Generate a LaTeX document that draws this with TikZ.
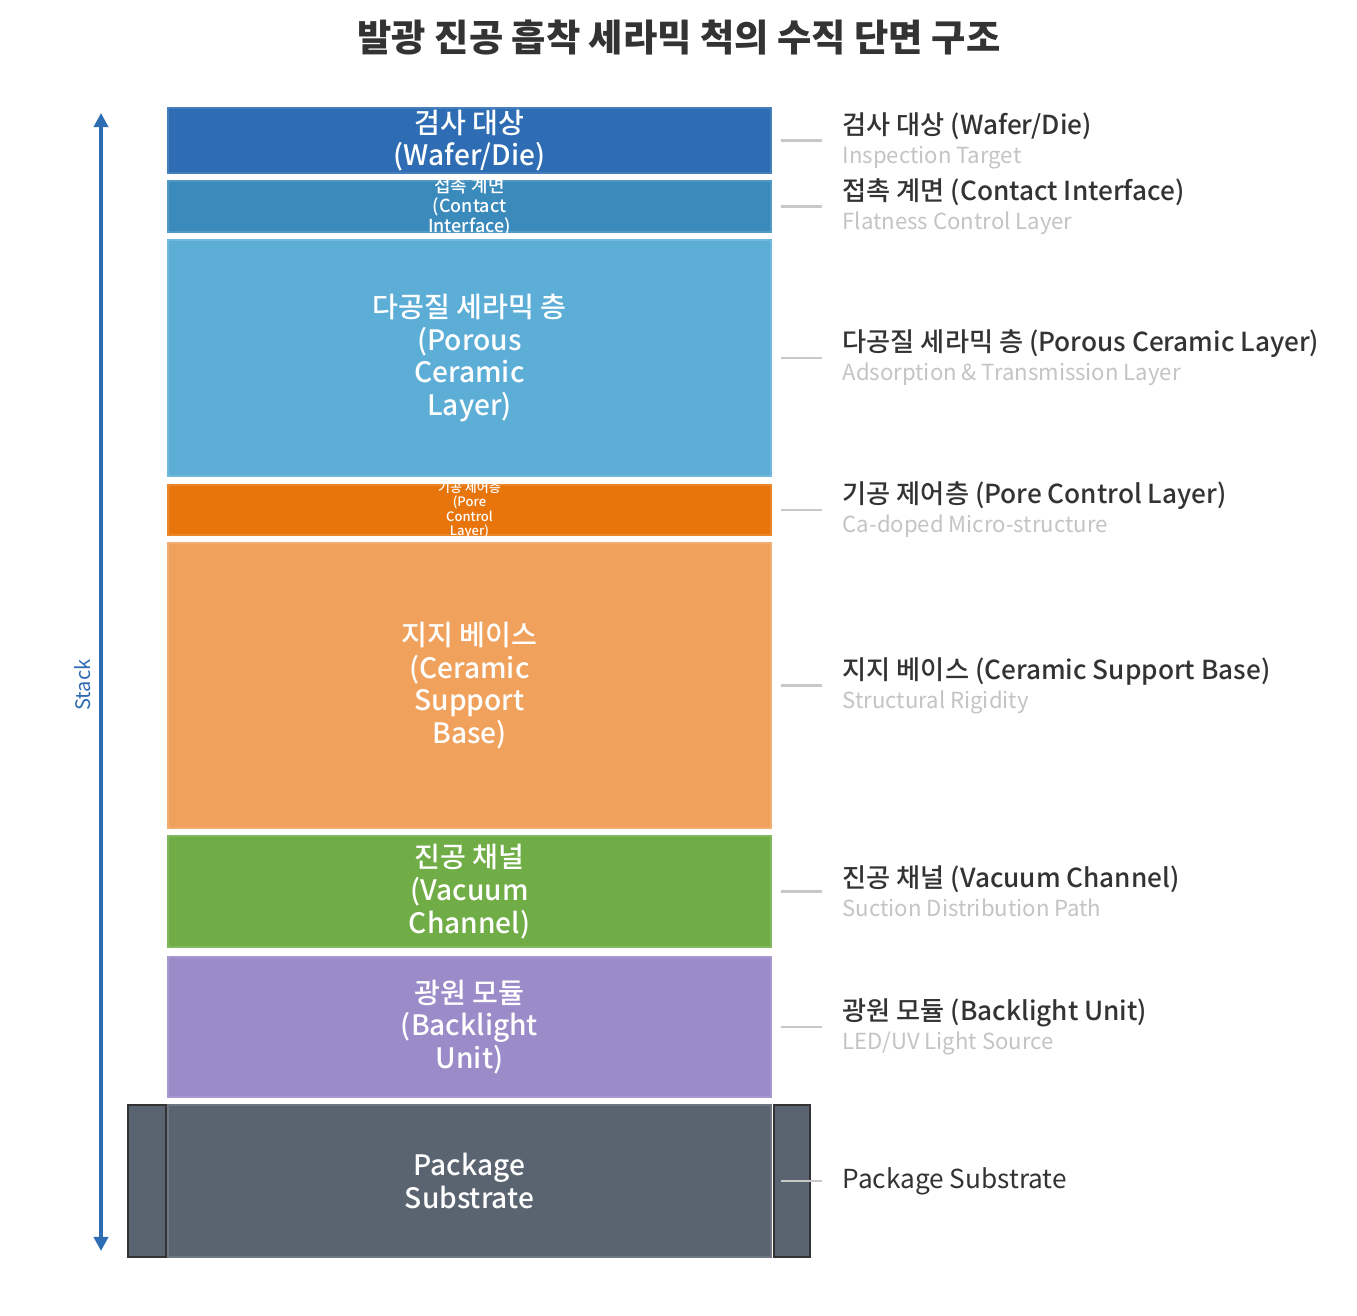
\documentclass[tikz,border=0pt]{standalone}
\usepackage{fontspec}
\setmainfont{Noto Sans CJK KR}
\newfontfamily\krmed{Noto Sans CJK KR Medium}
\usetikzlibrary{arrows.meta}

\definecolor{cWafer}{HTML}{2E6DB4}
\definecolor{cContact}{HTML}{3A8BBC}
\definecolor{cPorous}{HTML}{5DAED7}
\definecolor{cPore}{HTML}{E8750C}
\definecolor{cSupport}{HTML}{F0A25D}
\definecolor{cVacuum}{HTML}{70AD47}
\definecolor{cBacklight}{HTML}{9B8BC9}
\definecolor{cPackage}{HTML}{5A6370}
\definecolor{cText}{HTML}{333333}
\definecolor{cSub}{HTML}{C4C4C4}
\definecolor{cLeader}{HTML}{C8C8C8}

\tikzset{
  layer/.style={rectangle, inner sep=0pt, minimum width=6.03cm, fill=#1, draw=#1!88!white, line width=0.4pt},
  side/.style={rectangle, inner sep=0pt, fill=cPackage, draw=cText, line width=0.8pt},
  boxtext/.style={text=white, align=center, inner sep=0pt, font=\krmed\fontsize{8}{9.3}\selectfont},
  sidelabel/.style={anchor=west, align=left, inner sep=0pt, text=cText, font=\krmed\fontsize{7.45}{8.8}\selectfont},
  leader/.style={draw=cLeader, line width=0.6pt, shorten <=0.09cm, shorten >=0.2cm},
}
\newcommand{\subline}[1]{\\[-0.6pt]{\normalfont\fontsize{6.3}{7}\selectfont\color{cSub}#1}}

\begin{document}
\begin{tikzpicture}[x=0.01cm, y=-0.01cm]
  \useasboundingbox[fill=white] (0,0) rectangle (1357,1316);

  % title
  \node[text=cText, font=\fontsize{10.6}{12}\selectfont\bfseries] (title) at (679,37)
    {발광 진공 흡착 세라믹 척의 수직 단면 구조};

  % layers, top to bottom
  \node[layer=cWafer, minimum height=0.65cm] (wafer) at (469.5,140.5) {};
  \node[layer=cContact, minimum height=0.51cm] (contact) at (469.5,206.5) {};
  \node[layer=cPorous, minimum height=2.36cm] (porous) at (469.5,358) {};
  \node[layer=cPore, minimum height=0.50cm] (pore) at (469.5,510) {};
  \node[layer=cSupport, minimum height=2.85cm] (support) at (469.5,685.5) {};
  \node[layer=cVacuum, minimum height=1.11cm] (vacuum) at (469.5,891.5) {};
  \node[layer=cBacklight, minimum height=1.40cm] (backlight) at (469.5,1027) {};
  \node[side, minimum width=0.38cm, minimum height=1.52cm] (pkg-l) at (147,1181) {};
  \node[side, minimum width=0.36cm, minimum height=1.52cm] (pkg-r) at (792,1181) {};
  \node[layer=cPackage, minimum height=1.52cm] (package) at (469.5,1181) {};

  % texts inside the layers
  \node[boxtext] (wafer-t) at (wafer.center) {검사 대상\\(Wafer/Die)};
  \begin{scope}
    \clip (contact.south west) rectangle (contact.north east);
    \node[boxtext, font=\krmed\fontsize{5.1}{5.7}\selectfont] (contact-t) at (contact.center)
      {접촉 계면\\(Contact\\Interface)};
  \end{scope}
  \node[boxtext] (porous-t) at (porous.center) {다공질 세라믹 층\\(Porous\\Ceramic\\Layer)};
  \begin{scope}
    \clip (pore.south west) rectangle (pore.north east);
    \node[boxtext, font=\krmed\fontsize{3.7}{4.1}\selectfont] (pore-t) at (pore.center)
      {기공 제어층\\(Pore\\Control\\Layer)};
  \end{scope}
  \node[boxtext] (support-t) at (support.center) {지지 베이스\\(Ceramic\\Support\\Base)};
  \node[boxtext] (vacuum-t) at (vacuum.center) {진공 채널\\(Vacuum\\Channel)};
  \node[boxtext] (backlight-t) at (backlight.center) {광원 모듈\\(Backlight\\Unit)};
  \node[boxtext] (package-t) at (package.center) {Package\\Substrate};

  % labels on the right
  \node[sidelabel] (wafer-r) at (842,140.5) {검사 대상 (Wafer/Die)\subline{Inspection Target}};
  \node[sidelabel] (contact-r) at (842,206.5) {접촉 계면 (Contact Interface)\subline{Flatness Control Layer}};
  \node[sidelabel] (porous-r) at (842,358) {다공질 세라믹 층 (Porous Ceramic Layer)\subline{Adsorption \& Transmission Layer}};
  \node[sidelabel] (pore-r) at (842,510) {기공 제어층 (Pore Control Layer)\subline{Ca-doped Micro-structure}};
  \node[sidelabel] (support-r) at (842,685.5) {지지 베이스 (Ceramic Support Base)\subline{Structural Rigidity}};
  \node[sidelabel] (vacuum-r) at (842,891.5) {진공 채널 (Vacuum Channel)\subline{Suction Distribution Path}};
  \node[sidelabel] (backlight-r) at (842,1027) {광원 모듈 (Backlight Unit)\subline{LED/UV Light Source}};
  \node[sidelabel, font=\fontsize{7.45}{8.8}\selectfont] (package-r) at (842,1181) {Package Substrate};

  \begin{scope}[leader]
    \draw (wafer) to (wafer-r);
    \draw (contact) to (contact-r);
    \draw (porous) to (porous-r);
    \draw (pore) to (pore-r);
    \draw (support) to (support-r);
    \draw (vacuum) to (vacuum-r);
    \draw (backlight) to (backlight-r);
    \draw (package) to (package-r);
  \end{scope}

  % stack arrow
  \coordinate (stack-top) at (101,113);
  \coordinate (stack-bot) at (101,1251);
  \draw[cWafer, line width=1.1pt, {Triangle[width=4pt,length=4pt]}-{Triangle[width=4pt,length=4pt]}]
    (stack-top) -- (stack-bot);
  \node[text=cWafer, rotate=90, font=\fontsize{5.7}{7}\selectfont] (stack) at (83,685) {Stack};
\end{tikzpicture}
\end{document}
